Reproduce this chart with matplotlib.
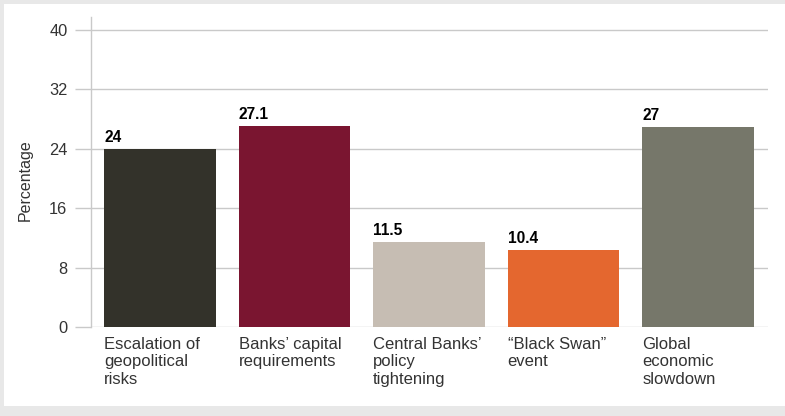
import numpy as np
import matplotlib.pyplot as plt
from matplotlib.patches import Rectangle

plt.rcParams['font.family'] = ['Liberation Sans', 'DejaVu Sans']

# chart data
categories = ['Escalation of\ngeopolitical\nrisks',
              "Banks\u2019 capital\nrequirements",
              "Central Banks\u2019\npolicy\ntightening",
              '\u201cBlack Swan\u201d\nevent',
              'Global\neconomic\nslowdown']
values = [24, 27.1, 11.5, 10.4, 27]
value_labels = ['24', '27.1', '11.5', '10.4', '27']
bar_colors = ['#33322a', '#7a1530', '#c6bdb3', '#e4672f', '#76776a']
y_ticks = [0, 8, 16, 24, 32, 40]

W, H = 785, 416
fig = plt.figure(figsize=(W / 100, H / 100), dpi=100, facecolor='#e8e8e8')
# white panel inside the light gray frame
fig.add_artist(Rectangle((4 / W, (H - 406) / H), (W - 4) / W, 402 / H,
                         transform=fig.transFigure, facecolor='white',
                         edgecolor='none', zorder=-5))

left, right, top, bottom = 91, 768, 17, 327
ax = fig.add_axes([left / W, (H - bottom) / H, (right - left) / W, (bottom - top) / H])
ax.set_facecolor('none')
ax.set_zorder(2)

grid_c = '#c9c9c9'
x = np.arange(len(values))
width = 0.83
ax.bar(x, values, width=width, color=bar_colors, zorder=3)

for xi, v, lab in zip(x, values, value_labels):
    ax.annotate(lab, (xi - width / 2, v), xytext=(0, 5), textcoords='offset points',
                ha='left', va='baseline', fontsize=11.2, fontweight='bold',
                color='black')

ax.set_xlim(-0.513, 4.52)
ax.set_ylim(0, 41.75)
ax.set_yticks(y_ticks)
ax.set_yticklabels([str(t) for t in y_ticks])
ax.yaxis.grid(True, color=grid_c, linewidth=1)
ax.set_axisbelow(True)
ax.tick_params(axis='y', length=11.5, width=1, color=grid_c, pad=5.5,
               labelsize=11.8, labelcolor='#333333')

ax.set_xticks(x - width / 2)
ax.set_xticklabels(categories, ha='left', multialignment='left',
                   fontsize=12, color='#333333', linespacing=1.22)
ax.tick_params(axis='x', length=0, pad=7)

for s in ['top', 'right', 'bottom']:
    ax.spines[s].set_visible(False)
ax.spines['left'].set_color(grid_c)
ax.spines['left'].set_linewidth(1)

ax.set_ylabel('Percentage', fontsize=11.5, color='#333333')
ax.yaxis.set_label_coords(-0.086, 0.474)

fig.savefig('out.png', dpi=100, facecolor=fig.get_facecolor())
